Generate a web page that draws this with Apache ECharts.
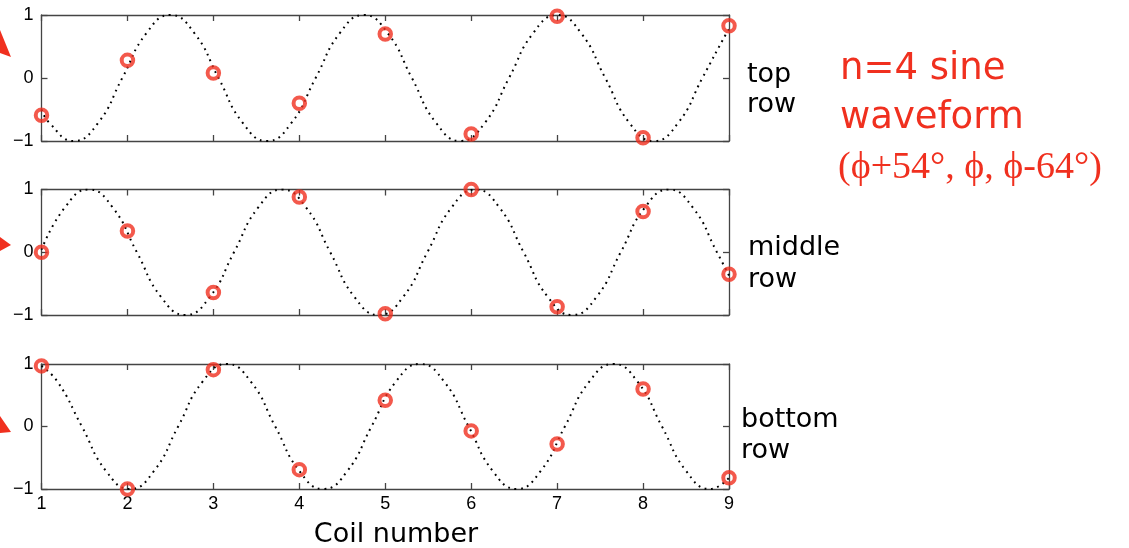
<!DOCTYPE html>
<html>
<head>
<meta charset="utf-8">
<script src="https://cdn.jsdelivr.net/npm/echarts@6/dist/echarts.min.js"></script>
<style>
  html, body { margin: 0; padding: 0; background: #fff; }
  #chart { width: 1129px; height: 548px; }
</style>
</head>
<body>
<div id="chart"></div>
<script>
// Coil positions and measured amplitudes for each coil row
const coils = [1, 2, 3, 4, 5, 6, 7, 8, 9];
const topRow = [-0.59, 0.28, 0.08, -0.40, 0.70, -0.89, 0.98, -0.95, 0.83];
const middleRow = [0.00, 0.34, -0.64, 0.88, -0.98, 1.00, -0.87, 0.65, -0.35];
const bottomRow = [0.97, -1.00, 0.91, -0.69, 0.42, -0.07, -0.28, 0.60, -0.82];

// Fitted n=4 waveforms, [coil, amplitude] samples along each curve
const topWave = [
  [1.00, -0.50], [1.09, -0.71], [1.375, -1], [1.66, -0.71], [1.94, 0], [2.22, 0.71],
  [2.50, 1], [2.78, 0.71], [3.06, 0], [3.34, -0.71], [3.625, -1], [3.91, -0.71],
  [4.19, 0], [4.47, 0.71], [4.75, 1], [5.03, 0.71], [5.31, 0], [5.59, -0.71],
  [5.875, -1], [6.16, -0.71], [6.44, 0], [6.72, 0.71], [7.00, 1], [7.28, 0.71],
  [7.56, 0], [7.84, -0.71], [8.125, -1], [8.41, -0.71], [8.69, 0], [8.97, 0.71],
  [9.00, 0.77]
];
const middleWave = [
  [1.00, 0.04], [1.27, 0.71], [1.55, 1], [1.83, 0.71], [2.11, 0], [2.39, -0.71],
  [2.675, -1], [2.96, -0.71], [3.24, 0], [3.52, 0.71], [3.80, 1], [4.08, 0.71],
  [4.36, 0], [4.64, -0.71], [4.925, -1], [5.21, -0.71], [5.49, 0], [5.77, 0.71],
  [6.05, 1], [6.33, 0.71], [6.61, 0], [6.89, -0.71], [7.175, -1], [7.46, -0.71],
  [7.74, 0], [8.02, 0.71], [8.30, 1], [8.58, 0.71], [8.86, 0], [9.00, -0.37]
];
const bottomWave = [
  [1.00, 0.97], [1.19, 0.71], [1.47, 0], [1.75, -0.71], [2.03, -1], [2.31, -0.71],
  [2.59, 0], [2.87, 0.71], [3.155, 1], [3.44, 0.71], [3.72, 0], [4.00, -0.71],
  [4.28, -1], [4.56, -0.71], [4.84, 0], [5.12, 0.71], [5.405, 1], [5.69, 0.71],
  [5.97, 0], [6.25, -0.71], [6.53, -1], [6.81, -0.71], [7.09, 0], [7.37, 0.71],
  [7.655, 1], [7.94, 0.71], [8.22, 0], [8.50, -0.71], [8.78, -1], [9.00, -0.82]
];

// Axis ranges and tick text
const xTicks = [1, 9];
const yTicks = [-1, 1];
const yTickLabels = { '-1': '\u22121', '0': '0', '1': '1' };

const RED = '#f0301f';
const AXIS = '#444';
const SANS = "'Liberation Sans', Arial, sans-serif";
const GOTHIC = "'DejaVu Sans', sans-serif";

const rows = [topRow, middleRow, bottomRow];
const waves = [topWave, middleWave, bottomWave];
const gridTops = [15, 189.5, 364];
const gridHeights = [126, 125.5, 125];

const grids = gridTops.map((t, i) => ({
  left: 41.5, width: 687.5, top: t, height: gridHeights[i], show: false
}));

const xAxes = [];
const yAxes = [];
rows.forEach((_, gi) => {
  ['bottom', 'top'].forEach(pos => {
    xAxes.push({
      type: 'value', gridIndex: gi, position: pos,
      min: xTicks[0], max: xTicks[1], interval: 1,
      axisLine: { show: true, onZero: false, lineStyle: { color: AXIS, width: 1.3 } },
      axisTick: { show: true, inside: true, length: 6, lineStyle: { color: AXIS, width: 1.3 } },
      axisLabel: {
        show: pos === 'bottom' && gi === 2, margin: 6,
        color: '#000', fontFamily: SANS, fontSize: 18
      },
      splitLine: { show: false }
    });
  });
  ['left', 'right'].forEach(pos => {
    yAxes.push({
      type: 'value', gridIndex: gi, position: pos,
      min: yTicks[0], max: yTicks[1], interval: 1,
      axisLine: { show: true, onZero: false, lineStyle: { color: AXIS, width: 1.3 } },
      axisTick: { show: true, inside: true, length: 6, lineStyle: { color: AXIS, width: 1.3 } },
      axisLabel: {
        show: pos === 'left', margin: 8,
        color: '#000', fontFamily: SANS, fontSize: 18,
        formatter: v => yTickLabels[String(v)]
      },
      splitLine: { show: false }
    });
  });
});

const series = [];
rows.forEach((vals, gi) => {
  series.push({
    type: 'line', xAxisIndex: gi * 2, yAxisIndex: gi * 2,
    data: waves[gi], smooth: 0.5, showSymbol: false, silent: true,
    lineStyle: { color: '#000', width: 2, type: [1.8, 4.6] },
    z: 2
  });
  series.push({
    type: 'scatter', xAxisIndex: gi * 2, yAxisIndex: gi * 2,
    data: coils.map((c, i) => [c, vals[i]]),
    symbol: 'circle', symbolSize: 11.5, clip: false,
    itemStyle: { color: 'rgba(255,255,255,0)', borderColor: RED, borderWidth: 4 },
    z: 3
  });
});

function txt(text, x, y, size, color, family, align) {
  return {
    type: 'text', x, y,
    style: {
      text, fill: color, fontSize: size, fontFamily: family,
      textAlign: align || 'left', textVerticalAlign: 'bottom'
    }
  };
}

const graphic = [
  // row labels
  txt('top', 747, 88, 27, '#000', GOTHIC),
  txt('row', 747, 118, 27, '#000', GOTHIC),
  txt('middle', 748, 261, 27, '#000', GOTHIC),
  txt('row', 748, 293, 27, '#000', GOTHIC),
  txt('bottom', 741, 433, 27, '#000', GOTHIC),
  txt('row', 741, 464, 27, '#000', GOTHIC),
  // waveform description
  txt('n=4 sine', 840, 88, 37, RED, GOTHIC),
  txt('waveform', 840, 137, 37, RED, GOTHIC),
  txt('(\u03d5+54\u00b0, \u03d5, \u03d5-64\u00b0)', 838, 187, 38, RED, "'Liberation Serif', 'Times New Roman', serif"),
  // x axis title
  txt('Coil number', 396, 548, 27, '#000', GOTHIC, 'center'),
  // arrowheads pointing at each row
  { type: 'polygon', shape: { points: [[0, 30], [11, 57], [0, 53]] }, style: { fill: RED } },
  { type: 'polygon', shape: { points: [[0, 237], [11, 245], [0, 251]] }, style: { fill: RED } },
  { type: 'polygon', shape: { points: [[0, 416], [11, 432], [0, 433]] }, style: { fill: RED } }
];

const chart = echarts.init(document.getElementById('chart'), null, { renderer: 'canvas' });
chart.setOption({
  animation: false,
  backgroundColor: '#fff',
  grid: grids,
  xAxis: xAxes,
  yAxis: yAxes,
  series,
  graphic
});
</script>
</body>
</html>
